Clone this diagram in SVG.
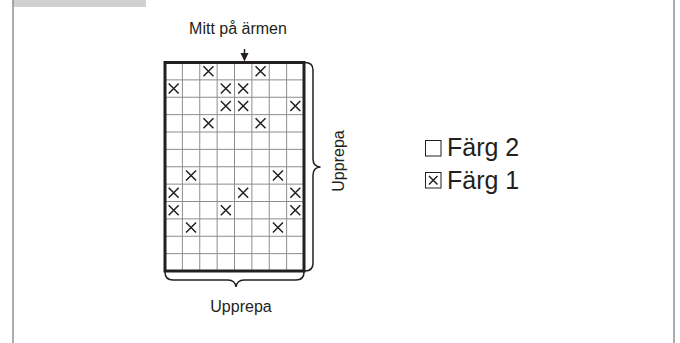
<svg xmlns="http://www.w3.org/2000/svg" width="680" height="343" viewBox="0 0 680 343">
<style>
.t{font-family:"Liberation Sans",Arial,sans-serif;fill:#231f20}
.g{stroke:#8c8c8c;stroke-width:1;fill:none}
.x{stroke:#231f20;stroke-width:1.5;fill:none}
.br{stroke:#231f20;stroke-width:1.5;fill:none}
</style>
<defs>
<path id="xm" d="M-5,-5L5,5M5,-5L-5,5" class="x"/>
</defs>
<rect x="0" y="0" width="680" height="343" fill="#ffffff"/>
<rect x="13" y="0" width="133" height="7" fill="#d0d0d0"/>
<line x1="13" y1="0" x2="13" y2="343" stroke="#8a9096" stroke-width="1.5"/>
<line x1="674" y1="0" x2="674" y2="343" stroke="#8a9096" stroke-width="1.5"/>
<g id="grid">
<path class="g" d="M182.375,62.5V271M199.75,62.5V271M217.125,62.5V271M234.5,62.5V271M251.875,62.5V271M269.25,62.5V271M286.625,62.5V271M165,79.875H304M165,97.25H304M165,114.625H304M165,132H304M165,149.375H304M165,166.75H304M165,184.125H304M165,201.5H304M165,218.875H304M165,236.25H304M165,253.625H304"/>
<use href="#xm" x="208.44" y="71.19"/><use href="#xm" x="260.56" y="71.19"/>
<use href="#xm" x="173.69" y="88.56"/><use href="#xm" x="225.81" y="88.56"/><use href="#xm" x="243.19" y="88.56"/>
<use href="#xm" x="225.81" y="105.94"/><use href="#xm" x="243.19" y="105.94"/><use href="#xm" x="295.31" y="105.94"/>
<use href="#xm" x="208.44" y="123.31"/><use href="#xm" x="260.56" y="123.31"/>
<use href="#xm" x="191.06" y="175.44"/><use href="#xm" x="277.94" y="175.44"/>
<use href="#xm" x="173.69" y="192.81"/><use href="#xm" x="243.19" y="192.81"/><use href="#xm" x="295.31" y="192.81"/>
<use href="#xm" x="173.69" y="210.19"/><use href="#xm" x="225.81" y="210.19"/><use href="#xm" x="295.31" y="210.19"/>
<use href="#xm" x="191.06" y="227.56"/><use href="#xm" x="277.94" y="227.56"/>
<rect x="165" y="62.5" width="139" height="208.5" fill="none" stroke="#231f20" stroke-width="3"/>
</g>
<g id="connectors">
<line x1="244.5" y1="49" x2="244.5" y2="54" stroke="#231f20" stroke-width="1.5"/>
<polygon points="240.5,53 248.5,53 244.5,61.5" fill="#231f20"/>
<path class="br" d="M305,62.5Q313,62.5 313,70L313,159Q313,166.5 320.5,167Q313,167.5 313,175L313,263Q313,271 305,271"/>
<path class="br" d="M165,272Q165,280 173,280L228,280Q235,280 236,287Q237,280 244,280L296,280Q304,280 304,272"/>
</g>
<g id="labels">
<text class="t" x="238" y="34" font-size="16" text-anchor="middle">Mitt på ärmen</text>
<text class="t" x="241" y="311.5" font-size="16" text-anchor="middle">Upprepa</text>
<text class="t" font-size="16" text-anchor="middle" transform="translate(344,161) rotate(-90)">Upprepa</text>
</g>
<g id="legend">
<rect x="425.5" y="140.5" width="15.5" height="15.5" fill="none" stroke="#231f20" stroke-width="1"/>
<text class="t" x="447" y="156" font-size="25">Färg 2</text>
<rect x="425.5" y="172.5" width="15.5" height="15.5" fill="none" stroke="#231f20" stroke-width="1"/>
<path d="M429,176L437.5,184.5M437.5,176L429,184.5" class="x"/>
<text class="t" x="447" y="189" font-size="25">Färg 1</text>
</g>
</svg>
